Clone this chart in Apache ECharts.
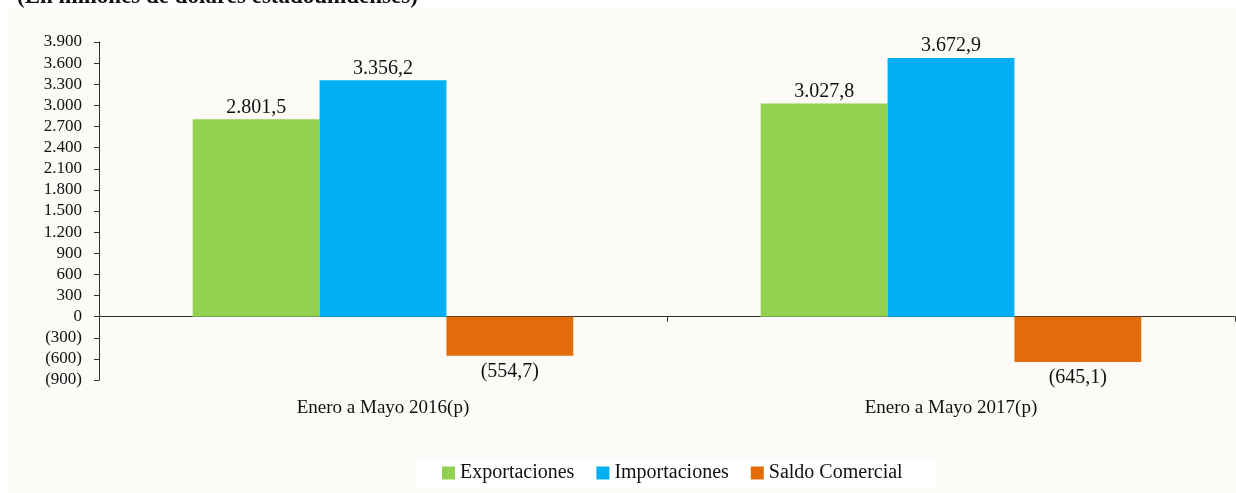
<!DOCTYPE html>
<html><head><meta charset="utf-8">
<script src="https://cdn.jsdelivr.net/npm/echarts@6/dist/echarts.min.js"></script>
<style>html,body{margin:0;padding:0;background:#fff}#c{width:1236px;height:493px}</style>
</head><body><div id="c"></div>
<script>
const categories = ['Enero a Mayo 2016(p)', 'Enero a Mayo 2017(p)'];
const exportaciones = [2801.5, 3027.8];
const importaciones = [3356.2, 3672.9];
const saldoComercial = [-554.7, -645.1];
const seriesNames = ['Exportaciones', 'Importaciones', 'Saldo Comercial'];
const colors = ['#92d050', '#00b0f0', '#e36c0a'];
const titleText = '(En millones de dólares estadounidenses)';

function fmtNum(v, dec) {
  const neg = v < 0;
  const a = Math.abs(v);
  let s = a.toFixed(dec);
  let [ip, dp] = s.split('.');
  ip = ip.replace(/\B(?=(\d{3})+(?!\d))/g, '.');
  let out = dp ? ip + ',' + dp : ip;
  return neg ? '(' + out + ')' : out;
}
const font = '"Liberation Serif", "DejaVu Serif", serif';
const chart = echarts.init(document.getElementById('c'));
function mk(name, data, color) {
  return {
    name, type: 'bar', data, barGap: 0, barCategoryGap: '33%',
    itemStyle: { color },
    label: {
      show: true, color: '#111', fontFamily: font, fontSize: 20,
      position: 'top', distance: 2,
      formatter: p => fmtNum(p.value, 1)
    }
  };
}
const s3 = mk(seriesNames[2], saldoComercial, colors[2]);
s3.label.position = 'bottom';
s3.label.distance = 6;
chart.setOption({
  backgroundColor: '#fff',
  animation: false,
  textStyle: { fontFamily: font },
  graphic: [{ type: 'rect', shape: { x: 7, y: 8, width: 1229, height: 485 }, style: { fill: '#fcfbf8' }, z: -10, silent: true }],
  title: { text: titleText, left: 12, top: -19, textStyle: { fontFamily: font, fontSize: 23, fontWeight: 'bold', color: '#111' } },
  legend: {
    data: seriesNames, bottom: 5, left: 415,
    backgroundColor: '#fff', padding: [5, 33, 5, 27],
    itemWidth: 13, itemHeight: 13, itemGap: 22, icon: 'rect',
    textStyle: { fontFamily: font, fontSize: 20, color: '#111' }
  },
  grid: { left: 99, right: 1, top: 42, bottom: 113, containLabel: false },
  xAxis: [
    { type: 'category', data: categories, position: 'bottom',
      axisLine: { show: false, onZero: false }, axisTick: { show: false },
      axisLabel: { fontFamily: font, fontSize: 19, color: '#111', margin: 19 } },
    { type: 'category', data: categories, position: 'top',
      axisLine: { show: true, onZero: true, lineStyle: { color: '#333', width: 1 } },
      axisTick: { show: true, inside: true, length: 5, lineStyle: { color: '#333' } },
      axisLabel: { show: false } }
  ],
  yAxis: {
    type: 'value', min: -900, max: 3900, interval: 300,
    axisLine: { show: true, lineStyle: { color: '#333' } },
    axisTick: { show: true, length: 5, lineStyle: { color: '#333' } },
    splitLine: { show: false },
    axisLabel: { fontFamily: font, fontSize: 17, color: '#111', margin: 17, formatter: v => fmtNum(v, 0) }
  },
  series: [mk(seriesNames[0], exportaciones, colors[0]), mk(seriesNames[1], importaciones, colors[1]), s3]
});
</script></body></html>
